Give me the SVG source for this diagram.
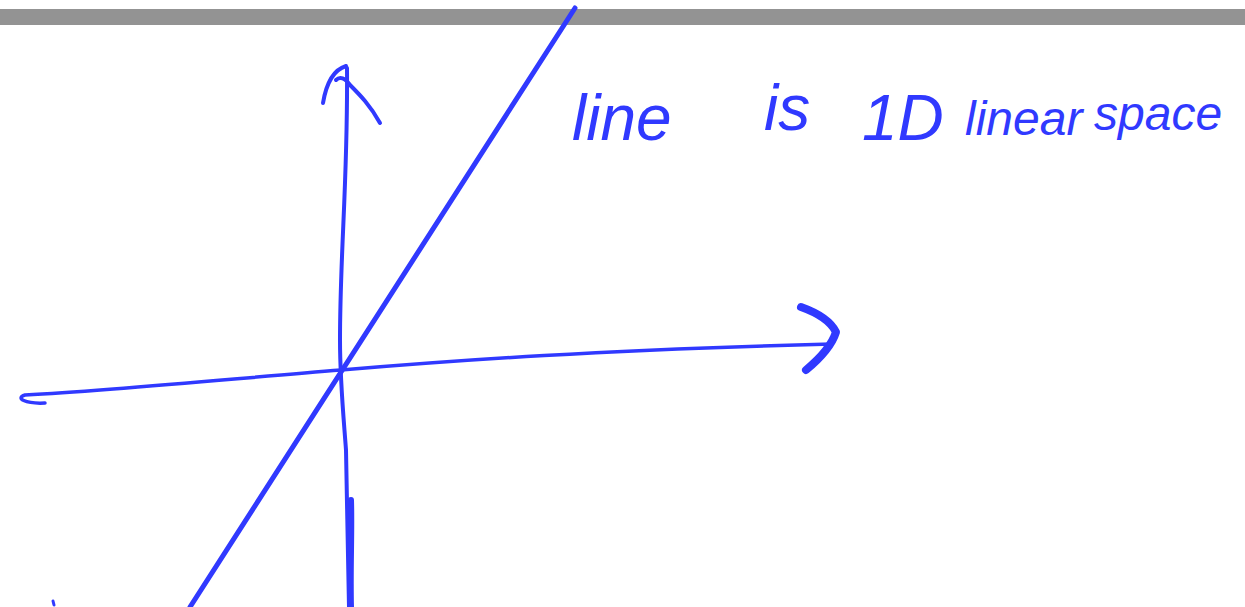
<svg xmlns="http://www.w3.org/2000/svg" width="1245" height="607" viewBox="0 0 1245 607">
<style>
.ink{fill:none;stroke:#3039ff;stroke-linecap:round;stroke-linejoin:round}
.t{font-family:"Liberation Sans",Arial,sans-serif;font-size:64px;fill:#3039ff;font-style:italic}
.s{font-size:48px}
</style>
<rect x="0" y="0" width="1245" height="607" fill="#ffffff"/>
<rect x="0" y="9" width="1245" height="16" fill="#939393"/>
<g id="connectors">
<path class="ink" stroke-width="5" d="M575,8 L190,607"/>
<path class="ink" stroke-width="4" d="M349,607 C348,560 347,500 346,450 C343,410 340,380 340,340 C340,250 348,180 347,68"/>
<path class="ink" stroke-width="6" d="M351,500 C352,530 350,570 351,607"/>
<path class="ink" stroke-width="4" d="M323,103 C326,85 333,70 346,66 M336,80 C340,76 345,78 350,85 C360,95 370,105 380,123"/>
<path class="ink" stroke-width="3.5" d="M45,403 C25,404 15,398 25,395 C120,390 240,378 341,370 C460,360 600,350 832,344"/>
<path class="ink" stroke-width="8" d="M801,307 C815,312 830,320 836,332 C832,345 818,360 806,370"/>
<path class="ink" stroke-width="3" d="M53,601 L54,605"/>
</g>
<g id="label">
<text class="t" x="572" y="140">line</text>
<text class="t" x="764" y="130">is</text>
<text class="t" x="862" y="140">1D</text>
<text class="t s" x="965" y="135">linear</text>
<text class="t s" x="1094" y="130">space</text>
</g>
</svg>
